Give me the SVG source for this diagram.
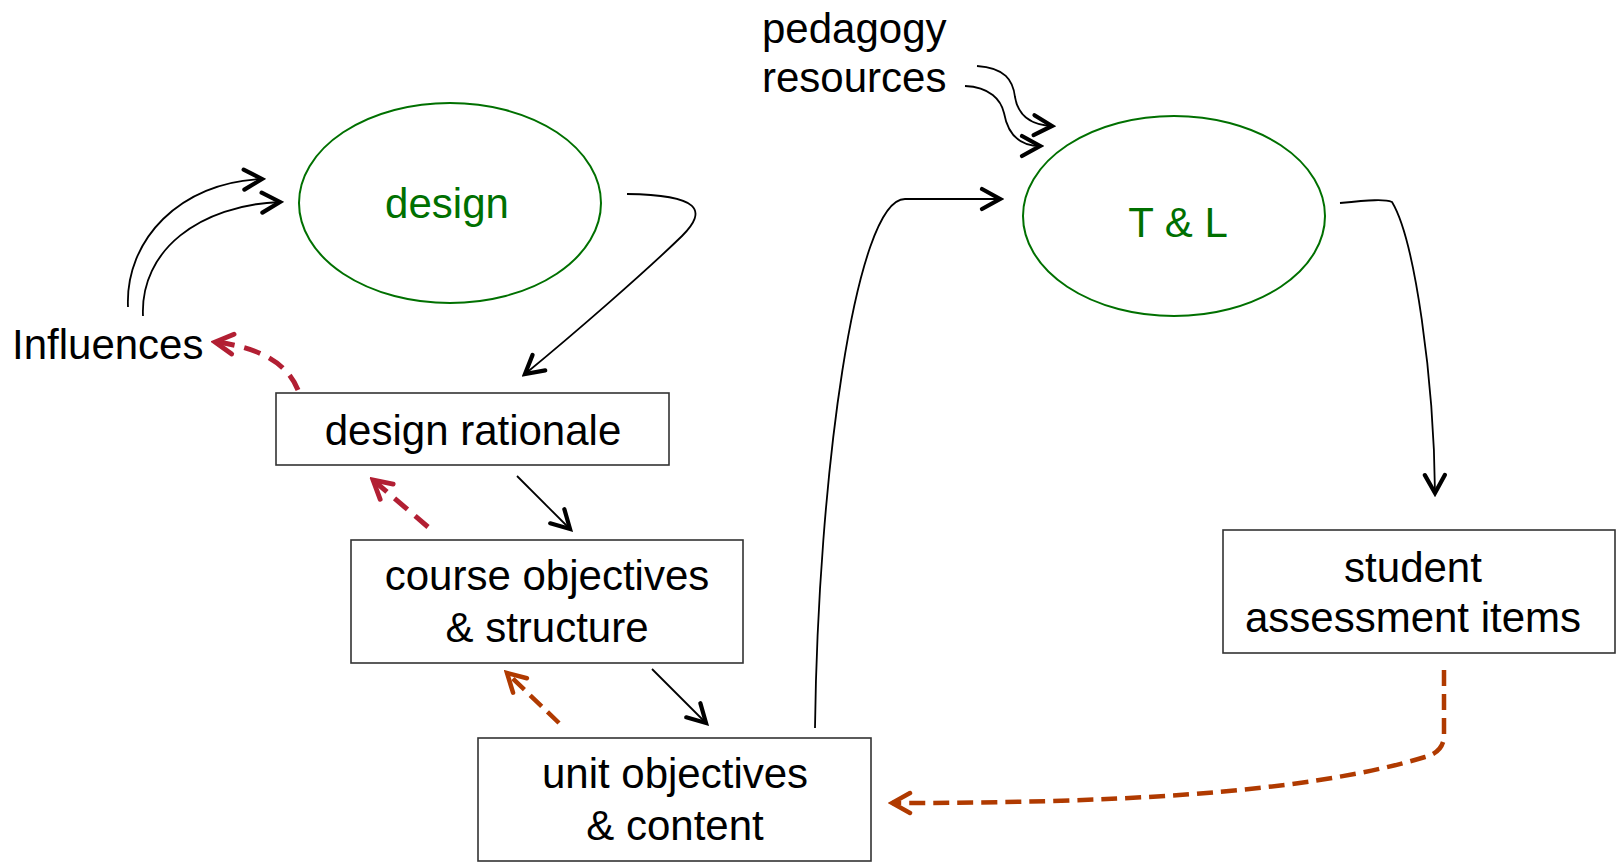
<svg xmlns="http://www.w3.org/2000/svg" width="1623" height="866" viewBox="0 0 1623 866">
<style>
text{font-family:"Liberation Sans",Arial,sans-serif;font-size:42px;fill:#000}
.mid{text-anchor:middle}
.green{fill:#007000}
.ell{fill:none;stroke:#007000;stroke-width:2}
.box{fill:#fff;stroke:#333;stroke-width:1.6}
.ln{fill:none;stroke:#000;stroke-width:1.8}
.red{fill:none;stroke:#b21f33;stroke-width:5;stroke-dasharray:17 10}
.org{fill:none;stroke:#b03a00;stroke-width:4.5;stroke-dasharray:16 8}
</style>
<defs>
<marker id="ab" markerUnits="userSpaceOnUse" viewBox="-24 -14 28 28" refX="0" refY="0" markerWidth="28" markerHeight="28" orient="auto">
<path d="M-18,-10 L0,0 L-18,10" fill="none" stroke="#000" stroke-width="4.2" stroke-linecap="round" stroke-linejoin="miter"/>
</marker>
<marker id="ar" markerUnits="userSpaceOnUse" viewBox="-24 -14 28 28" refX="0" refY="0" markerWidth="28" markerHeight="28" orient="auto">
<path d="M-18,-10 L0,0 L-18,10" fill="none" stroke="#b21f33" stroke-width="4.8" stroke-dasharray="none" stroke-linecap="round"/>
</marker>
<marker id="ao" markerUnits="userSpaceOnUse" viewBox="-24 -14 28 28" refX="0" refY="0" markerWidth="28" markerHeight="28" orient="auto">
<path d="M-18,-10 L0,0 L-18,10" fill="none" stroke="#b03a00" stroke-width="4.5" stroke-dasharray="none" stroke-linecap="round"/>
</marker>
</defs>
<rect width="1623" height="866" fill="#fff"/>
<g id="connectors">
<path class="ln" d="M128,307 C125,240 180,182 262,179" marker-end="url(#ab)"/>
<path class="ln" d="M143,316 C140,250 200,205 280,202" marker-end="url(#ab)"/>
<path class="ln" d="M627,194 C700,195 708,210 682,236 C645,272 575,333 525,374" marker-end="url(#ab)"/>
<path class="ln" d="M517,476 L570,529" marker-end="url(#ab)"/>
<path class="ln" d="M652,669 L706,723" marker-end="url(#ab)"/>
<path class="ln" d="M815,728 C818,480 855,199 905,199 L1000,199" marker-end="url(#ab)"/>
<path class="ln" d="M1340,203 C1370,200 1385,199 1392,202 C1415,240 1434,380 1435,493" marker-end="url(#ab)"/>
<path class="ln" d="M977,66 C1005,68 1013,80 1015,97 C1018,115 1030,125 1052,126" marker-end="url(#ab)"/>
<path class="ln" d="M965,86 C990,87 1001,100 1004,113 C1008,135 1020,146 1040,146" marker-end="url(#ab)"/>
<path class="red" d="M298,390 Q282,350 215,342" marker-end="url(#ar)"/>
<path class="red" d="M428,527 L373,480" marker-end="url(#ar)"/>
<path class="org" d="M559,723 L507,673" marker-end="url(#ao)"/>
<path class="org" d="M1444,670 L1444,735 Q1444,752 1425,757 C1300,795 1100,803 892,803" marker-end="url(#ao)"/>
</g>
<g id="design">
<ellipse class="ell" cx="450" cy="203" rx="151" ry="100"/>
<text class="mid green" x="447" y="218">design</text>
</g>
<g id="tl">
<ellipse class="ell" cx="1174" cy="216" rx="151" ry="100"/>
<text class="mid green" x="1178" y="237">T &amp; L</text>
</g>
<g id="influences">
<text x="12" y="359">Influences</text>
</g>
<g id="pedagogy">
<text x="762" y="43">pedagogy</text>
<text x="762" y="92">resources</text>
</g>
<g id="rationale">
<rect class="box" x="276" y="393" width="393" height="72"/>
<text class="mid" x="473" y="445">design rationale</text>
</g>
<g id="course">
<rect class="box" x="351" y="540" width="392" height="123"/>
<text class="mid" x="547" y="590">course objectives</text>
<text class="mid" x="547" y="642">&amp; structure</text>
</g>
<g id="unit">
<rect class="box" x="478" y="738" width="393" height="123"/>
<text class="mid" x="675" y="788">unit objectives</text>
<text class="mid" x="675" y="840">&amp; content</text>
</g>
<g id="student">
<rect class="box" x="1223" y="530" width="392" height="123"/>
<text class="mid" x="1413" y="582">student</text>
<text class="mid" x="1413" y="632">assessment items</text>
</g>
</svg>
